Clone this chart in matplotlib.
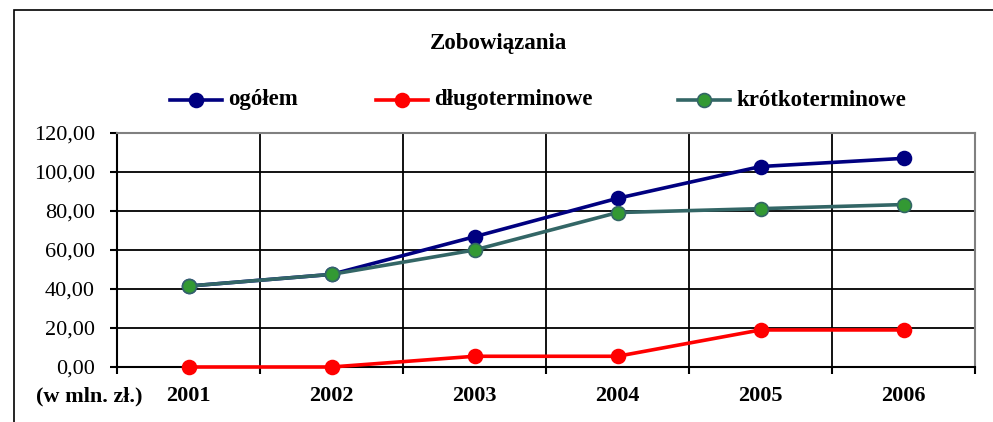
import matplotlib.pyplot as plt
from matplotlib.lines import Line2D
from matplotlib.patches import Rectangle
from matplotlib.ticker import FuncFormatter

years = ['2001', '2002', '2003', '2004', '2005', '2006']
ogolem = [41.5, 47.5, 66.8, 86.5, 102.8, 107.0]
dlugo = [0.0, 0.0, 5.5, 5.5, 19.0, 19.0]
krotko = [41.5, 47.5, 60.0, 79.2, 81.2, 83.3]

plt.rcParams['font.family'] = ['Liberation Serif', 'DejaVu Serif']

fig = plt.figure(figsize=(9.93, 4.22), dpi=100)
W, H = 993, 422

# outer frame (cut off on right and bottom like the screenshot)
fig.patches.append(Rectangle((14 / W, -0.1), 1.2, 1 - 10 / H + 0.1, transform=fig.transFigure,
                             fill=False, edgecolor='black', linewidth=1.2))

ax = fig.add_axes([117 / W, 1 - 367 / H, (975 - 117) / W, (367 - 133) / H])

x = list(range(len(years)))
series = [
    (ogolem, '#000080', '#000080', '#000080', 'ogółem'),
    (dlugo, '#FF0000', '#FF0000', '#FF0000', 'długoterminowe'),
    (krotko, '#336666', '#339933', '#336666', 'krótkoterminowe'),
]
for vals, lc, fc, ec, name in series:
    ax.plot(x, vals, color=lc, linewidth=2.6, marker='o', markersize=10,
            markerfacecolor=fc, markeredgecolor=ec, markeredgewidth=1.2,
            zorder=3, clip_on=False)

ax.set_xlim(-0.5, len(years) - 0.5)
ax.set_ylim(0, 120)
ax.set_yticks(range(0, 121, 20))
ax.yaxis.set_major_formatter(FuncFormatter(lambda v, p: f'{v:.2f}'.replace('.', ',')))
ax.set_xticks([i - 0.5 for i in range(len(years) + 1)])
ax.set_xticks(x, minor=True)
ax.set_xticklabels([])
ax.set_xticklabels(years, minor=True, fontweight='bold', fontsize=16)
ax.tick_params(axis='x', which='minor', length=0, pad=14)
ax.tick_params(axis='x', which='major', length=5, width=1.5, direction='out')
ax.tick_params(axis='y', length=5, width=1.5, direction='out', labelsize=16, pad=11)
ax.grid(True, which='major', color='black', linewidth=1.3)
ax.set_axisbelow(True)
for s in ['left', 'bottom']:
    ax.spines[s].set_color('black')
    ax.spines[s].set_linewidth(1.5)
for s in ['top', 'right']:
    ax.spines[s].set_color('#808080')
    ax.spines[s].set_linewidth(1.5)

fig.text(89 / W, 1 - 396 / H, '(w mln. zł.)', ha='center', va='center',
         fontsize=16, fontweight='bold')
fig.text(499 / W, 1 - 43 / H, 'Zobowiązania', ha='center', va='center',
         fontsize=16.5, fontweight='bold')

# legend, placed by hand
leg_y = 1 - 100 / H
for (vals, lc, fc, ec, name), mx in zip(series, [196, 402, 704]):
    fig.lines.append(Line2D([(mx - 26) / W, (mx + 26) / W], [leg_y, leg_y],
                            transform=fig.transFigure, color=lc, linewidth=2.6))
    fig.lines.append(Line2D([mx / W], [leg_y], transform=fig.transFigure, marker='o',
                            markersize=10, markerfacecolor=fc, markeredgecolor=ec,
                            markeredgewidth=1.2, linestyle='none'))
    fig.text((mx + 32) / W, leg_y, name, ha='left', va='center', fontsize=16.5,
             fontweight='bold')

fig.savefig('out.png', dpi=100)
